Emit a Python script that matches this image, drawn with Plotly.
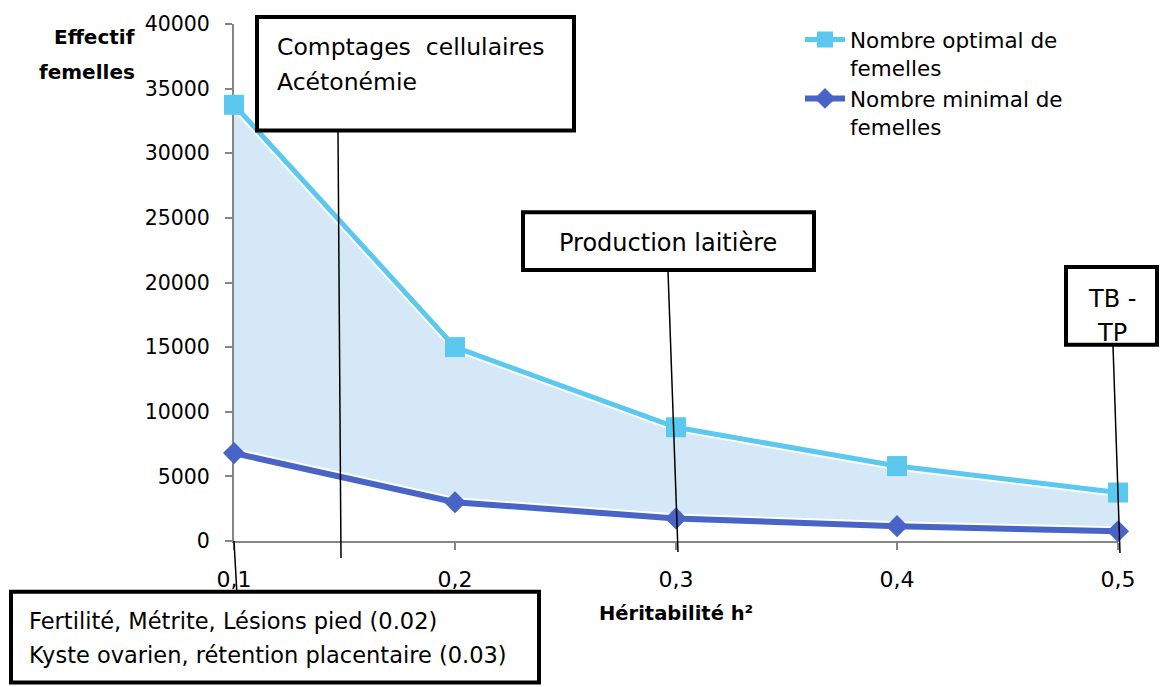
import plotly.graph_objects as go

# ---- data ----
heritabilite = [0.1, 0.2, 0.3, 0.4, 0.5]
x_tick_labels = ["0,1", "0,2", "0,3", "0,4", "0,5"]
nombre_optimal = [33750, 15000, 8800, 5800, 3750]
nombre_minimal = [6800, 3000, 1750, 1150, 750]
y_tick_values = [0, 5000, 10000, 15000, 20000, 25000, 30000, 35000, 40000]

name_opt = "Nombre optimal de<br>femelles"
name_min = "Nombre minimal de<br>femelles"

C_OPT = "rgb(91,200,240)"
C_MIN = "rgb(72,100,198)"
C_FILL = "rgb(213,232,248)"
FONT = "DejaVu Sans"

# plot area in pixels (for positioning boxes)
L, R, T, B = 234, 1118, 22, 541
W, H = R - L, B - T


def px(xp):
    return (xp - L) / W


def py(yp):
    return (B - yp) / H


fig = go.Figure()

# band between the two series
fig.add_trace(go.Scatter(x=heritabilite, y=nombre_minimal, mode="lines",
                         line=dict(width=0, color="white"), showlegend=False,
                         hoverinfo="skip"))
fig.add_trace(go.Scatter(x=heritabilite, y=nombre_optimal, mode="lines",
                         fill="tonexty", fillcolor=C_FILL,
                         line=dict(width=9, color="white"), showlegend=False,
                         hoverinfo="skip"))
fig.add_trace(go.Scatter(x=heritabilite, y=nombre_minimal, mode="lines",
                         line=dict(width=10, color="white"), showlegend=False,
                         hoverinfo="skip"))

fig.add_trace(go.Scatter(x=heritabilite, y=nombre_optimal, name=name_opt,
                         mode="lines+markers",
                         line=dict(width=5, color=C_OPT),
                         marker=dict(symbol="square", size=20, color=C_OPT)))
fig.add_trace(go.Scatter(x=heritabilite, y=nombre_minimal, name=name_min,
                         mode="lines+markers",
                         line=dict(width=6, color=C_MIN),
                         marker=dict(symbol="diamond", size=17, color=C_MIN)))
fig.update_traces(cliponaxis=False)

shapes = []
annotations = []


def box(x0, y0, x1, y1):
    shapes.append(dict(type="rect", xref="paper", yref="paper",
                       x0=px(x0), y0=py(y0), x1=px(x1), y1=py(y1),
                       line=dict(color="black", width=4), fillcolor="white",
                       layer="above"))


def seg(x0, y0, x1, y1):
    shapes.append(dict(type="line", xref="paper", yref="paper",
                       x0=px(x0), y0=py(y0), x1=px(x1), y1=py(y1),
                       line=dict(color="black", width=1.5), layer="above"))


def text(t, x, y, size, xanchor="left", bold=False, align="left"):
    if bold:
        t = "<b>" + t + "</b>"
    annotations.append(dict(text=t, xref="paper", yref="paper", x=px(x), y=py(y),
                            xanchor=xanchor, yanchor="middle", showarrow=False,
                            align=align,
                            font=dict(family=FONT, size=size, color="black")))


# callout lines
seg(338, 130, 341, 558)
seg(668, 270, 678, 552)
seg(1113, 345, 1120, 553)
seg(237, 595, 234, 541)

# boxes
box(257, 15, 574, 129)
box(523, 211, 814, 269)
box(1066, 266, 1157, 344)
box(11, 592, 539, 683)

text("Comptages  cellulaires", 275, 45, 23.5)
text("Acétonémie", 275, 80, 23.5)
text("Production laitière", 668, 242, 24, xanchor="center")
text("TB -", 1112, 298, 24, xanchor="center")
text("TP", 1112, 332, 24, xanchor="center")
text("Fertilité, Métrite, Lésions pied (0.02)", 27, 621, 22.5)
text("Kyste ovarien, rétention placentaire (0.03)", 27, 655, 22.5)

# axis titles
text("Effectif", 137, 35, 20, xanchor="right", bold=True)
text("femelles", 137, 70, 20, xanchor="right", bold=True)
text("Héritabilité h²", 676, 614, 19.5, xanchor="center", bold=True)

fig.update_layout(
    width=1160, height=687,
    margin=dict(l=L, r=1160 - R, t=T, b=687 - B),
    paper_bgcolor="white", plot_bgcolor="white",
    font=dict(family=FONT, size=20, color="black"),
    shapes=shapes, annotations=annotations,
    showlegend=True,
    legend=dict(x=px(800), y=py(17), xanchor="left", yanchor="top",
                valign="top", traceorder="normal",
                font=dict(family=FONT, size=21.5, color="black"),
                bgcolor="rgba(0,0,0,0)", tracegroupgap=0, itemwidth=40),
    xaxis=dict(range=[0.1, 0.5], tickvals=heritabilite, ticktext=x_tick_labels,
               showgrid=False, zeroline=False, showline=True,
               linecolor="rgb(134,134,134)", linewidth=2,
               ticks="outside", ticklen=7, tickcolor="rgb(134,134,134)",
               tickwidth=1.5, ticklabelstandoff=11, layer="below traces",
               tickfont=dict(family=FONT, size=22, color="black")),
    yaxis=dict(range=[0, 40000], tickvals=y_tick_values, tickformat="d",
               showgrid=False, zeroline=False, showline=True,
               linecolor="rgb(134,134,134)", linewidth=2,
               ticks="outside", ticklen=7, tickcolor="rgb(134,134,134)",
               tickwidth=1.5, ticklabelstandoff=11, layer="below traces",
               tickfont=dict(family=FONT, size=20.5, color="black")),
)

fig.write_html("out.html")
